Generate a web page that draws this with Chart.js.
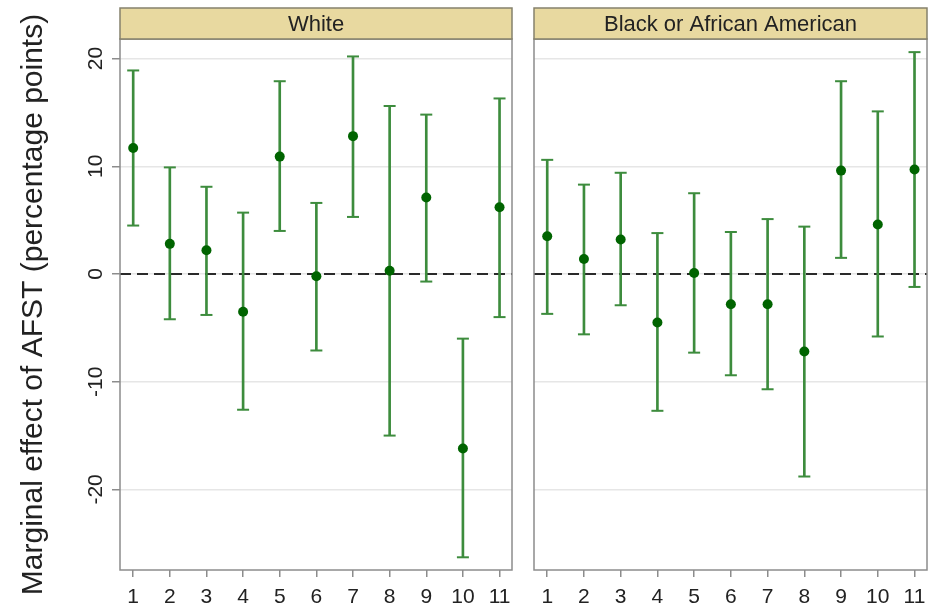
<!DOCTYPE html>
<html><head><meta charset="utf-8">
<script src="https://cdn.jsdelivr.net/npm/chart.js@4.4.1/dist/chart.umd.min.js"></script>
<style>
html,body{margin:0;padding:0;background:#fff;}
#wrap{position:relative;width:935px;height:614px;}
#c1{position:absolute;left:0;top:0;}
#c2{position:absolute;left:520px;top:0;}
</style></head><body>
<div id="wrap"><canvas id="c1" width="520" height="614"></canvas><canvas id="c2" width="415" height="614"></canvas></div>
<script>
// Categories on the x axis and the y tick values
const categories = [1, 2, 3, 4, 5, 6, 7, 8, 9, 10, 11];
const yTicks = [-20, -10, 0, 10, 20];
const panelTitles = ['White', 'Black or African American'];
const yTitle = 'Marginal effect of AFST (percentage points)';

// White: point estimates and confidence bounds
const whiteEst = [11.7, 2.8, 2.2, -3.5, 10.9, -0.2, 12.8, 0.3, 7.1, -16.2, 6.2];
const whiteLo  = [4.5, -4.2, -3.8, -12.6, 4.0, -7.1, 5.3, -15.0, -0.7, -26.3, -4.0];
const whiteHi  = [18.9, 9.9, 8.1, 5.7, 17.9, 6.6, 20.2, 15.6, 14.8, -6.0, 16.3];

// Black or African American: point estimates and confidence bounds
const blackEst = [3.5, 1.4, 3.2, -4.5, 0.1, -2.8, -2.8, -7.2, 9.6, 4.6, 9.7];
const blackLo  = [-3.7, -5.6, -2.9, -12.7, -7.3, -9.4, -10.7, -18.8, 1.5, -5.8, -1.2];
const blackHi  = [10.6, 8.3, 9.4, 3.8, 7.5, 3.9, 5.1, 4.4, 17.9, 15.1, 20.6];

const BAR_GREEN = '#3d8c3d';
const DOT_GREEN = '#006400';
const FONT = '"Liberation Sans", Arial, sans-serif';

// Frame, header strip and dashed zero reference line for each panel
const panelFrame = {
  id: 'panelFrame',
  beforeDatasetsDraw(chart) {
    const a = chart.chartArea, y0 = chart.scales.y.getPixelForValue(0);
    const ctx = chart.ctx;
    ctx.save();
    ctx.strokeStyle = '#2a2a2a';
    ctx.lineWidth = 2;
    ctx.setLineDash([11, 6]);
    ctx.beginPath();
    ctx.moveTo(a.left, y0);
    ctx.lineTo(a.right, y0);
    ctx.stroke();
    ctx.restore();
  },
  afterDraw(chart, args, opts) {
    const a = chart.chartArea, ctx = chart.ctx;
    ctx.save();
    ctx.strokeStyle = '#8c8c8c';
    ctx.lineWidth = 1.5;
    ctx.strokeRect(a.left, a.top, a.right - a.left, a.bottom - a.top);
    const top = 8;
    ctx.fillStyle = '#e8d9a0';
    ctx.fillRect(a.left, top, a.right - a.left, a.top - top);
    ctx.strokeStyle = '#85816c';
    ctx.strokeRect(a.left, top, a.right - a.left, a.top - top);
    ctx.fillStyle = '#222';
    ctx.font = '22px ' + FONT;
    ctx.textAlign = 'center';
    ctx.textBaseline = 'middle';
    ctx.fillText(opts.label, (a.left + a.right) / 2, (top + a.top) / 2 + 1);
    ctx.restore();
  }
};

function makeDatasets(est, lo, hi) {
  const bars = categories.map((c, i) => ({ x: c, y: [lo[i], hi[i]] }));
  const caps = categories.flatMap((c, i) => [{ x: c, y: lo[i] }, { x: c, y: hi[i] }]);
  const dots = categories.map((c, i) => ({ x: c, y: est[i] }));
  return [
    { type: 'scatter', data: dots, pointRadius: 5, backgroundColor: DOT_GREEN, borderWidth: 0, order: 0 },
    { type: 'scatter', data: caps, pointStyle: 'line', pointRadius: 6, borderColor: BAR_GREEN, borderWidth: 2, order: 1 },
    { type: 'bar', data: bars, backgroundColor: BAR_GREEN, borderWidth: 0, barThickness: 2, grouped: false, order: 2 }
  ];
}

function makeChart(canvas, est, lo, hi, label, withYAxis) {
  const xScale = {
    type: 'linear', min: 0.64, max: 11.34, offset: false,
    afterBuildTicks: s => { s.ticks = categories.map(v => ({ value: v })); },
    ticks: { font: { size: 21, family: FONT }, color: '#222', padding: 8, maxRotation: 0, minRotation: 0, autoSkip: false },
    grid: { offset: false, drawOnChartArea: false, tickLength: 7, tickColor: '#8c8c8c', lineWidth: 1.5 },
    border: { display: false },
    afterFit: s => { s.height = 44; }
  };
  const yScale = {
    type: 'linear', min: -27.48, max: 21.82,
    afterBuildTicks: s => { s.ticks = yTicks.map(v => ({ value: v })); },
    ticks: withYAxis
      ? { font: { size: 21, family: FONT }, color: '#222', minRotation: 90, maxRotation: 90, crossAlign: 'center', padding: 1 }
      : { display: false },
    grid: { color: '#e6e6e6', lineWidth: 1.5, drawTicks: withYAxis, tickLength: 8, tickColor: '#8c8c8c' },
    border: { display: false },
    title: withYAxis
      ? { display: true, text: yTitle, font: { size: 30, family: FONT }, color: '#222', padding: { top: 16, bottom: 0 } }
      : { display: false },
    afterFit: s => { s.width = withYAxis ? 120 : 0; }
  };
  return new Chart(canvas, {
    data: { datasets: makeDatasets(est, lo, hi) },
    options: {
      responsive: false,
      animation: false,
      layout: { padding: { left: withYAxis ? 0 : 14, right: 3.3, top: 39, bottom: 0 } },
      scales: { x: xScale, y: yScale },
      plugins: { legend: { display: false }, tooltip: { enabled: false }, panelFrame: { label } }
    },
    plugins: [panelFrame]
  });
}

makeChart(document.getElementById('c1'), whiteEst, whiteLo, whiteHi, panelTitles[0], true);
makeChart(document.getElementById('c2'), blackEst, blackLo, blackHi, panelTitles[1], false);
</script>
</body></html>
